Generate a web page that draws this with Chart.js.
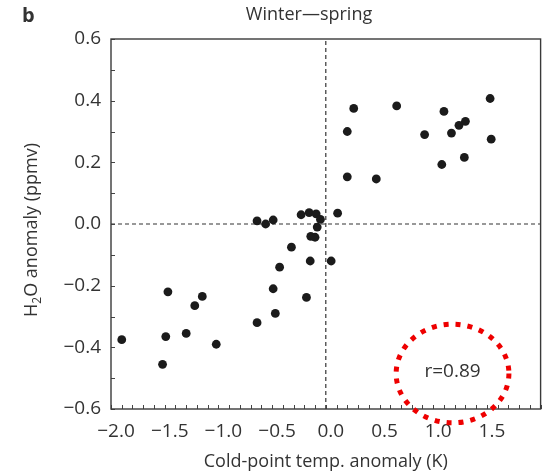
<!DOCTYPE html>
<html>
<head>
<meta charset="utf-8">
<script src="https://cdn.jsdelivr.net/npm/chart.js@4.4.1/dist/chart.umd.min.js"></script>
<style>
  html, body { margin: 0; padding: 0; background: #fff; }
  #wrap { width: 545px; height: 473px; position: relative; }
</style>
</head>
<body>
<div id="wrap"><canvas id="c" width="545" height="473"></canvas></div>
<script>
// Cold-point temperature anomaly (K) and H2O anomaly (ppmv), winter–spring
const tempAnomaly = [
  -1.90, -1.52, -1.49, -1.47, -1.30, -1.22, -1.15, -1.02,
  -0.64, -0.64, -0.56, -0.49, -0.49, -0.47, -0.43, -0.32,
  -0.23, -0.155, -0.18, -0.145, -0.14, -0.10, -0.09, -0.08, -0.05,
  0.05, 0.11, 0.20, 0.20, 0.26, 0.47, 0.66, 0.92, 1.08, 1.10,
  1.17, 1.24, 1.29, 1.30, 1.53, 1.54
];
const waterAnomaly = [
  -0.375, -0.455, -0.365, -0.22, -0.355, -0.265, -0.235, -0.39,
  -0.32, 0.01, 0.00, 0.013, -0.21, -0.29, -0.14, -0.075,
  0.03, 0.037, -0.238, -0.12, -0.04, -0.043, 0.033, -0.01, 0.015,
  -0.12, 0.035, 0.153, 0.30, 0.375, 0.146, 0.383, 0.29, 0.193, 0.365,
  0.295, 0.32, 0.216, 0.333, 0.407, 0.275
];
const xTickLabels = [-2.0, -1.5, -1.0, -0.5, 0.0, 0.5, 1.0, 1.5];
const yTickLabels = [-0.6, -0.4, -0.2, 0.0, 0.2, 0.4, 0.6];
const correlationText = 'r=0.89';

const FONT = '"Open Sans", "Noto Sans", sans-serif';
const INK = '#333333';

const points = tempAnomaly.map((x, i) => ({ x: x, y: waterAnomaly[i] }));

const fmt = v => (v < 0 ? '\u2212' : '') + Math.abs(v).toFixed(1);
const near = (v, list) => list.some(t => Math.abs(t - v) < 1e-6);

// frame, inward minor ticks, headings and the correlation ellipse
const decorations = {
  id: 'decorations',
  afterDatasetsDraw(chart) {
    const { ctx, chartArea: a, scales: { x, y } } = chart;
    ctx.save();
    // inward ticks every 0.1
    ctx.strokeStyle = '#444';
    ctx.lineWidth = 1;
    for (let k = -20; k <= 20; k++) {
      const px = Math.round(x.getPixelForValue(k / 10)) + 0.5;
      ctx.beginPath(); ctx.moveTo(px, a.bottom); ctx.lineTo(px, a.bottom - 4); ctx.stroke();
    }
    for (let k = -6; k <= 6; k++) {
      const py = Math.round(y.getPixelForValue(k / 10)) + 0.5;
      ctx.beginPath(); ctx.moveTo(a.left, py); ctx.lineTo(a.left + 4, py); ctx.stroke();
    }
    // frame
    ctx.strokeStyle = '#3a3a3a';
    ctx.lineWidth = 1.4;
    ctx.strokeRect(a.left, a.top, a.right - a.left, a.bottom - a.top);

    // panel letter and title
    ctx.fillStyle = INK;
    ctx.textBaseline = 'middle';
    ctx.textAlign = 'left';
    ctx.font = 'bold 20px ' + FONT;
    ctx.fillText('b', 22, 16);
    ctx.textAlign = 'center';
    ctx.font = '18px ' + FONT;
    ctx.fillText('Winter\u2014spring', 309, 15);

    // y-axis heading with subscript
    ctx.save();
    ctx.translate(32, 230);
    ctx.rotate(-Math.PI / 2);
    ctx.textBaseline = 'middle';
    ctx.textAlign = 'left';
    const big = '18px ' + FONT, small = '12px ' + FONT;
    ctx.font = big; const wH = ctx.measureText('H').width;
    ctx.font = small; const w2 = ctx.measureText('2').width;
    ctx.font = big; const wRest = ctx.measureText('O anomaly (ppmv)').width;
    let cx = -(wH + w2 + wRest) / 2;
    ctx.font = big; ctx.fillText('H', cx, 0); cx += wH;
    ctx.font = small; ctx.fillText('2', cx, 6); cx += w2;
    ctx.font = big; ctx.fillText('O anomaly (ppmv)', cx, 0);
    ctx.restore();

    // correlation note inside a dotted red ellipse
    const ex = x.getPixelForValue(1.18), ey = y.getPixelForValue(-0.485);
    const rx = x.getPixelForValue(1.18 + 0.525) - ex;
    const ry = ey - y.getPixelForValue(-0.485 + 0.16);
    ctx.strokeStyle = '#ee0000';
    ctx.lineWidth = 5;
    ctx.setLineDash([5, 7]);
    ctx.beginPath();
    ctx.ellipse(ex, ey, rx, ry, 0, 0, Math.PI * 2);
    ctx.stroke();
    ctx.setLineDash([]);
    ctx.fillStyle = INK;
    ctx.font = '19px ' + FONT;
    ctx.textAlign = 'center';
    ctx.fillText(correlationText, ex, ey - 2);
    ctx.restore();
  }
};

new Chart(document.getElementById('c'), {
  type: 'scatter',
  data: {
    datasets: [
      {
        data: points,
        pointRadius: 4.4,
        pointHoverRadius: 4.4,
        pointBackgroundColor: '#1b1b1b',
        pointBorderWidth: 0,
        order: 0
      },
      {
        data: [{ x: 0, y: -0.6 }, { x: 0, y: 0.6 }],
        showLine: true, pointRadius: 0,
        borderColor: '#333', borderWidth: 1.2, borderDash: [4, 3],
        order: 1
      },
      {
        data: [{ x: -2, y: 0 }, { x: 2, y: 0 }],
        showLine: true, pointRadius: 0,
        borderColor: '#333', borderWidth: 1.2, borderDash: [4, 3],
        order: 1
      }
    ]
  },
  options: {
    responsive: false,
    animation: false,
    events: [],
    layout: { padding: { left: 0, right: 4, top: 39, bottom: 0 } },
    plugins: { legend: { display: false }, tooltip: { enabled: false }, title: { display: false } },
    scales: {
      x: {
        type: 'linear', min: -2, max: 2,
        afterBuildTicks: s => { s.ticks = xTickLabels.map(v => ({ value: v })); },
        afterFit: s => { s.height = 64; },
        grid: { display: false, drawTicks: false },
        border: { display: false },
        ticks: {
          autoSkip: false, maxRotation: 0, padding: 11, labelOffset: 5,
          color: INK, font: { family: FONT, size: 19 },
          callback: v => near(v, xTickLabels) ? fmt(v) : ''
        },
        title: {
          display: true, text: 'Cold-point temp. anomaly (K)',
          color: INK, font: { family: FONT, size: 18 }, padding: { top: 1, bottom: 0 }
        }
      },
      y: {
        type: 'linear', min: -0.6, max: 0.6,
        afterBuildTicks: s => { s.ticks = yTickLabels.map(v => ({ value: v })); },
        afterFit: s => { s.width = 111; },
        grid: { display: false, drawTicks: false },
        border: { display: false },
        ticks: {
          autoSkip: false, padding: 10,
          color: INK, font: { family: FONT, size: 19 },
          callback: v => near(v, yTickLabels) ? fmt(v) : ''
        }
      }
    }
  },
  plugins: [decorations]
});
</script>
</body>
</html>
